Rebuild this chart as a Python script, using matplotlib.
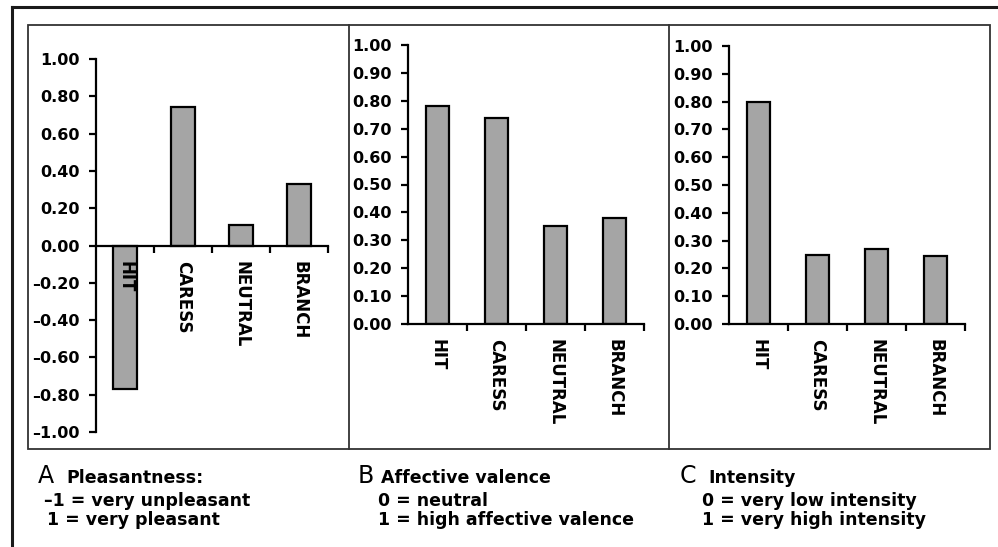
import matplotlib.pyplot as plt
from matplotlib.lines import Line2D
from matplotlib.patches import Rectangle

# Daten
kategorien = ['HIT', 'CARESS', 'NEUTRAL', 'BRANCH']
pleasantness = [-0.77, 0.74, 0.11, 0.33]
valence = [0.78, 0.74, 0.35, 0.38]
intensity = [0.80, 0.25, 0.27, 0.245]

ticks_a = [-1.0, -0.8, -0.6, -0.4, -0.2, 0.0, 0.2, 0.4, 0.6, 0.8, 1.0]
ticks_bc = [0.0, 0.1, 0.2, 0.3, 0.4, 0.5, 0.6, 0.7, 0.8, 0.9, 1.0]

W, H = 998, 547
BAR_FARBE = '#a5a5a5'
FONT = 'DejaVu Sans'


def fx(x):
    return x / W


def fy(y):
    return 1 - y / H


def ax_px(fig, x0, x1, ytop, ybot):
    # Achse in Pixelkoordinaten anlegen
    return fig.add_axes([fx(x0), fy(ybot), (x1 - x0) / W, (ybot - ytop) / H])


def zeichne_panel(ax, werte, yticks, ylim):
    x = list(range(len(kategorien)))
    # Balken unter den Achsenbeschriftungen (HIT-Label liegt im Balken)
    ax.bar(x, werte, width=0.4, color=BAR_FARBE, edgecolor='black', linewidth=1.6, zorder=1)
    ax.set_xlim(-0.5, len(kategorien) - 0.5)
    ax.set_ylim(*ylim)
    for s in ['top', 'right']:
        ax.spines[s].set_visible(False)
    ax.spines['bottom'].set_position(('data', 0))
    ax.spines['left'].set_linewidth(1.6)
    ax.spines['bottom'].set_linewidth(1.6)
    ax.patch.set_alpha(0)

    ax.set_yticks(yticks)
    ax.set_yticklabels([f'{v:.2f}'.replace('-', '\u2013') for v in yticks])
    ax.tick_params(axis='y', length=5, width=1.6, pad=7, labelsize=11.5)

    ax.set_xticks(x)
    ax.set_xticklabels(kategorien, rotation=270, fontsize=12, va='top', ha='center')
    ax.tick_params(axis='x', which='major', length=0, pad=11)
    ax.set_xticks([i + 0.5 for i in x], minor=True)
    ax.tick_params(axis='x', which='minor', length=5, width=1.6, direction='out')
    for lbl in ax.get_xticklabels() + ax.get_yticklabels():
        lbl.set_fontweight('bold')
        lbl.set_fontfamily(FONT)


fig = plt.figure(figsize=(W / 100, H / 100), dpi=100)

# Rahmen
fig.add_artist(Line2D([fx(12), fx(998)], [fy(7), fy(7)], color='#1a1a1a', lw=2.2))
fig.add_artist(Line2D([fx(12), fx(12)], [fy(7), fy(547)], color='#1a1a1a', lw=2.2))
fig.add_artist(Rectangle((fx(28), fy(449)), (990 - 28) / W, (449 - 25) / H,
                         fill=False, edgecolor='#333333', lw=1.3))
for xd in [349, 669]:
    fig.add_artist(Line2D([fx(xd), fx(xd)], [fy(25), fy(449)], color='#333333', lw=1.3))

ax_a = ax_px(fig, 96, 328, 59, 432)
zeichne_panel(ax_a, pleasantness, ticks_a, (-1, 1))

ax_b = ax_px(fig, 408, 644, 45, 324)
zeichne_panel(ax_b, valence, ticks_bc, (0, 1))

ax_c = ax_px(fig, 729, 965, 46, 324)
zeichne_panel(ax_c, intensity, ticks_bc, (0, 1))

# Beschriftungen unten
legenden = [
    (38, 66, 44, 47, 'A', 'Pleasantness:', '\u20131 = very unpleasant', '1 = very pleasant'),
    (358, 381, 378, 378, 'B', 'Affective valence', '0 = neutral', '1 = high affective valence'),
    (680, 708, 702, 702, 'C', 'Intensity', '0 = very low intensity', '1 = very high intensity'),
]
for xb, xt, x2, x3, buchstabe, titel, z1, z2 in legenden:
    fig.text(fx(xb), fy(483), buchstabe, fontsize=17, family=FONT, va='baseline', ha='left')
    fig.text(fx(xt), fy(483), titel, fontsize=12.5, family=FONT, weight='bold', va='baseline', ha='left')
    fig.text(fx(x2), fy(506), z1, fontsize=12.5, family=FONT, weight='bold', va='baseline', ha='left')
    fig.text(fx(x3), fy(525), z2, fontsize=12.5, family=FONT, weight='bold', va='baseline', ha='left')

fig.savefig('out.png', dpi=100)
